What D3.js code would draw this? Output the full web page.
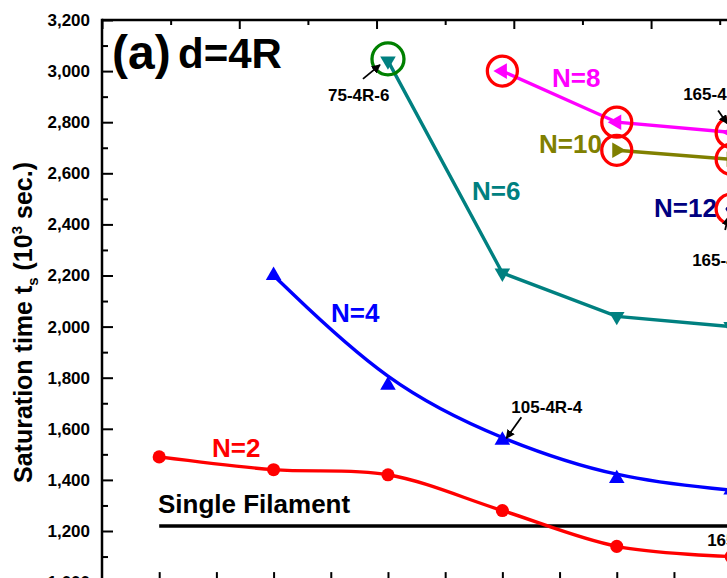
<!DOCTYPE html>
<html><head><meta charset="utf-8">
<script src="https://cdn.jsdelivr.net/npm/d3@7"></script>
<style>html,body{margin:0;padding:0;background:#fff;overflow:hidden}
text{font-family:"Liberation Sans",Arial,sans-serif;font-weight:bold}</style>
</head><body>
<svg id="chart" width="727" height="578"></svg>
<script>
// ---- data ----
const xValues = [15, 45, 75, 105, 135, 165];
const n2 = [1490, 1440, 1420, 1280, 1140, 1100];
const n4x = [45, 75, 105, 135, 165];
const n4 = [2200, 1770, 1555, 1405, 1360];
const n6x = [75, 105, 135, 165];
const n6 = [3040, 2210, 2040, 2000];
const n8x = [105, 135, 165];
const n8 = [3000, 2800, 2760];
const n10x = [135, 165];
const n10 = [2690, 2655];
const n12x = [165];
const n12 = [2460];
const singleFilament = 1220;
const yMajorTicks = [1000, 1200, 1400, 1600, 1800, 2000, 2200, 2400, 2600, 2800, 3000, 3200];
const yMinorTicks = [1100, 1300, 1500, 1700, 1900, 2100, 2300, 2500, 2700, 2900, 3100];
const xBottomTicks = [15, 30, 45, 60, 75, 90, 105, 120, 135, 150, 165, 180];
const xTopMajor = [0, 36, 72, 108, 144, 180];
const xTopMinor = [18, 54, 90, 126, 162];
const highlightRed = [[105, 3000], [135, 2800], [165, 2760], [135, 2690], [165, 2655], [165, 2460]];
const highlightGreen = [[75, 3040]];
const annotations = [
  {text: "75-4R-6", x: 75, y: 3040},
  {text: "105-4R-4", x: 105, y: 1555},
  {text: "165-4R-8", x: 165, y: 2760},
  {text: "165-4R-12", x: 165, y: 2460},
  {text: "165-4R-2", x: 165, y: 1100}
];

// ---- layout ----
const svg = d3.select("#chart");
const x = d3.scaleLinear().domain([0, 180]).range([102, 102 + 180 * 3.813]);
const y = d3.scaleLinear().domain([1000, 3200]).range([582.1, 20]);

const series = [
  {name: "N=2", xs: xValues, ys: n2, color: "#ff0000", sym: "circle", curve: d3.curveCatmullRom, lx: 212, ly: 457},
  {name: "N=4", xs: n4x, ys: n4, color: "#0000ff", sym: "up", curve: d3.curveBasis, lx: 331, ly: 322},
  {name: "N=6", xs: n6x, ys: n6, color: "#008080", sym: "down", curve: d3.curveLinear, lx: 472, ly: 200},
  {name: "N=8", xs: n8x, ys: n8, color: "#ff00ff", sym: "left", curve: d3.curveLinear, lx: 552, ly: 87},
  {name: "N=10", xs: n10x, ys: n10, color: "#808000", sym: "right", curve: d3.curveLinear, lx: 539, ly: 153},
  {name: "N=12", xs: n12x, ys: n12, color: "#000080", sym: "diamond", curve: d3.curveLinear, lx: 654, ly: 217}
];

// axes
const gl = svg.append("g").attr("transform", "translate(102,0)");
gl.call(d3.axisLeft(y).tickValues(yMajorTicks).tickSize(-11).tickPadding(12).tickFormat(d3.format(",")));
gl.append("g").call(d3.axisLeft(y).tickValues(yMinorTicks).tickSize(-6).tickFormat(""));
gl.selectAll(".domain").remove();
gl.selectAll("line").attr("stroke", "#000").attr("stroke-width", 2);
gl.selectAll("text").style("font-size", "17px").attr("fill", "#000");

const gb = svg.append("g").attr("transform", "translate(0,582.1)");
gb.call(d3.axisBottom(x).tickValues(xBottomTicks).tickSize(-10).tickFormat(""));
gb.selectAll(".domain").remove();
gb.selectAll("line").attr("stroke", "#000").attr("stroke-width", 2);

const gt = svg.append("g").attr("transform", "translate(0,20)");
gt.call(d3.axisTop(x).tickValues(xTopMajor).tickSize(-9).tickFormat(""));
gt.append("g").call(d3.axisTop(x).tickValues(xTopMinor).tickSize(-5).tickFormat(""));
gt.selectAll(".domain").remove();
gt.selectAll("line").attr("stroke", "#000").attr("stroke-width", 2);

svg.append("line").attr("x1", x(0)).attr("x2", x(180)).attr("y1", y(3200)).attr("y2", y(3200)).attr("stroke", "#000").attr("stroke-width", 2.5);
svg.append("line").attr("x1", x(0)).attr("x2", x(0)).attr("y1", y(3200) - 1.2).attr("y2", y(1000)).attr("stroke", "#000").attr("stroke-width", 2.5);
svg.append("line").attr("x1", x(0)).attr("x2", x(180)).attr("y1", y(1000)).attr("y2", y(1000)).attr("stroke", "#000").attr("stroke-width", 2.5);

// y title
const yt = svg.append("text").attr("transform", "translate(32,483) rotate(-90)").style("font-size", "25px").attr("fill", "#000");
yt.append("tspan").text("Saturation time t");
yt.append("tspan").text("s").style("font-size", "15px").attr("dy", 6);
yt.append("tspan").text(" (10").attr("dy", -6);
yt.append("tspan").text("3").style("font-size", "15px").attr("dy", -10);
yt.append("tspan").text(" sec.)").attr("dy", 10);

// panel label
svg.append("text").attr("x", 112).attr("y", 69).style("font-size", "48px").text("(a)");
svg.append("text").attr("x", 178).attr("y", 68).style("font-size", "42px").text("d=4R");

// single filament
svg.append("line").attr("x1", x(15)).attr("x2", x(180)).attr("y1", y(singleFilament)).attr("y2", y(singleFilament))
  .attr("stroke", "#000").attr("stroke-width", 3.5);
svg.append("text").attr("x", 158).attr("y", 513).style("font-size", "26px").text("Single Filament");

// series
const symType = {circle: d3.symbolCircle, up: d3.symbolTriangle, down: d3.symbolTriangle, left: d3.symbolTriangle, right: d3.symbolTriangle, diamond: d3.symbolDiamond};
const symRot = {circle: 0, up: 0, down: 180, left: -90, right: 90, diamond: 0};
const symSize = {circle: 135, up: 105, down: 105, left: 105, right: 105, diamond: 115};
series.forEach(s => {
  const pts = s.xs.map((v, i) => [v, s.ys[i]]);
  svg.append("path").datum(pts)
    .attr("d", d3.line().x(d => x(d[0])).y(d => y(d[1])).curve(s.curve))
    .attr("fill", "none").attr("stroke", s.color).attr("stroke-width", 3.4);
  svg.selectAll(null).data(pts).enter().append("path")
    .attr("d", d3.symbol().type(symType[s.sym]).size(symSize[s.sym]))
    .attr("transform", d => `translate(${x(d[0])},${y(d[1])}) rotate(${symRot[s.sym]})`)
    .attr("fill", s.color);
  svg.append("text").attr("x", s.lx).attr("y", s.ly).style("font-size", "26px").attr("fill", s.color).text(s.name);
});

// highlight circles
svg.selectAll(null).data(highlightRed).enter().append("circle")
  .attr("cx", d => x(d[0])).attr("cy", d => y(d[1])).attr("r", 15)
  .attr("fill", "none").attr("stroke", "#ff0000").attr("stroke-width", 3.3);
svg.selectAll(null).data(highlightGreen).enter().append("circle")
  .attr("cx", d => x(d[0])).attr("cy", d => y(d[1]) - 2).attr("r", 16)
  .attr("fill", "none").attr("stroke", "#008000").attr("stroke-width", 3.3);

// annotations (offsets are layout)
const annLayout = [
  {tx: -60, ty: 40, a: [-25, 18, -8, 4]},
  {tx: 9, ty: -27, a: [19, -23, 4, -2]},
  {tx: -48, ty: -32, a: [-13, -22, -4, -9]},
  {tx: -39, ty: 57, a: [-6, 21, -3, 8]},
  {tx: -24, ty: -11, a: null}
];
svg.append("defs").append("marker").attr("id", "ah").attr("viewBox", "0 0 10 10").attr("refX", 9).attr("refY", 5)
  .attr("markerWidth", 5).attr("markerHeight", 5).attr("orient", "auto")
  .append("path").attr("d", "M0,0 L10,5 L0,10 z").attr("fill", "#000");
annotations.forEach((an, i) => {
  const L = annLayout[i];
  const px = x(an.x), py = y(an.y);
  svg.append("text").attr("x", px + L.tx).attr("y", py + L.ty).style("font-size", "17px").text(an.text);
  if (L.a) {
    svg.append("line").attr("x1", px + L.a[0]).attr("y1", py + L.a[1]).attr("x2", px + L.a[2]).attr("y2", py + L.a[3])
      .attr("stroke", "#000").attr("stroke-width", 1.8).attr("marker-end", "url(#ah)");
  }
});
</script>
</body></html>
